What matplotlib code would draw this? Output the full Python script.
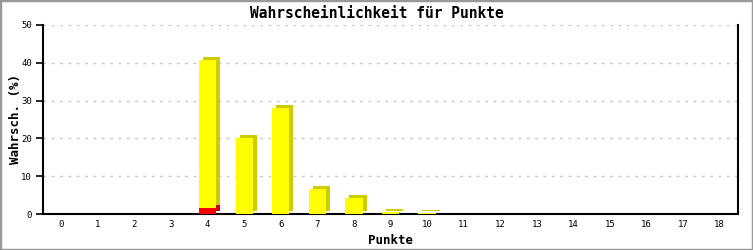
import matplotlib
matplotlib.use("Agg")
import matplotlib.pyplot as plt
import matplotlib.transforms as mtransforms
from matplotlib.patches import Rectangle

points = list(range(19))
red_vals = [0, 0, 0, 0, 1.6, 0, 0, 0, 0, 0, 0, 0, 0, 0, 0, 0, 0, 0, 0]
yellow_vals = [0, 0, 0, 0, 39.1, 20.0, 28.1, 6.7, 4.3, 0.4, 0.2, 0, 0, 0, 0, 0, 0, 0, 0]
y_ticks = [0, 10, 20, 30, 40, 50]
title = "Wahrscheinlichkeit für Punkte"
xlabel = "Punkte"
ylabel = "Wahrsch. (%)"

font = "DejaVu Sans Mono"
fig = plt.figure(figsize=(7.53, 2.5), dpi=100)
fig.patch.set_facecolor("white")
fig.add_artist(Rectangle((0, 0), 1, 1, transform=fig.transFigure, fill=False,
                         edgecolor="#999999", linewidth=2.5))
ax = fig.add_axes([43 / 753, 1 - 214 / 250, 695 / 753, 189 / 250])

width = 0.47
shadow = mtransforms.offset_copy(ax.transData, fig=fig, x=4, y=3, units="dots")
for x, r, yv in zip(points, red_vals, yellow_vals):
    if r > 0:
        ax.bar(x, r, width=width, color="#cc0000", transform=shadow, zorder=2.1, linewidth=0)
    if yv > 0:
        ax.bar(x, yv, bottom=r, width=width, color="#cccc00", transform=shadow, zorder=2, linewidth=0)
for x, r, yv in zip(points, red_vals, yellow_vals):
    if r > 0:
        ax.bar(x, r, width=width, color="#ff0000", zorder=4, linewidth=0)
    if yv > 0:
        ax.bar(x, yv, bottom=r, width=width, color="#ffff00", zorder=3, linewidth=0)

ax.set_xlim(-0.5, 18.5)
ax.set_ylim(0, 50)
ax.set_xticks(points)
ax.set_xticklabels([str(p) for p in points], fontfamily=font, fontsize=6.5)
ax.set_yticks(y_ticks)
ax.set_yticklabels([str(t) for t in y_ticks], fontfamily=font, fontsize=6.5)
ax.tick_params(axis="x", length=0, pad=4)
ax.tick_params(axis="y", length=5, width=1.2, pad=3, direction="out")
ax.yaxis.grid(True, color="#c8c8c8", linestyle=(0, (2, 4)), linewidth=1)
ax.set_axisbelow(True)
for s in ["left", "bottom", "right"]:
    ax.spines[s].set_linewidth(1.5)
    ax.spines[s].set_color("black")
ax.spines["top"].set_visible(False)

ax.set_xlabel(xlabel, fontfamily=font, fontweight="bold", fontsize=9)
ax.xaxis.set_label_coords(0.5, -(240 - 214) / 189)
ax.xaxis.label.set_va("center")
ax.set_ylabel(ylabel, fontfamily=font, fontweight="bold", fontsize=9)
ax.yaxis.set_label_coords(-(43 - 15) / 695, 0.5)
ax.yaxis.label.set_va("center")
fig.text(0.5, 1 - 13 / 250, title, ha="center", va="center", fontfamily=font,
         fontsize=10.5, fontweight="bold")

fig.savefig("out.png", dpi=100, facecolor="white")
